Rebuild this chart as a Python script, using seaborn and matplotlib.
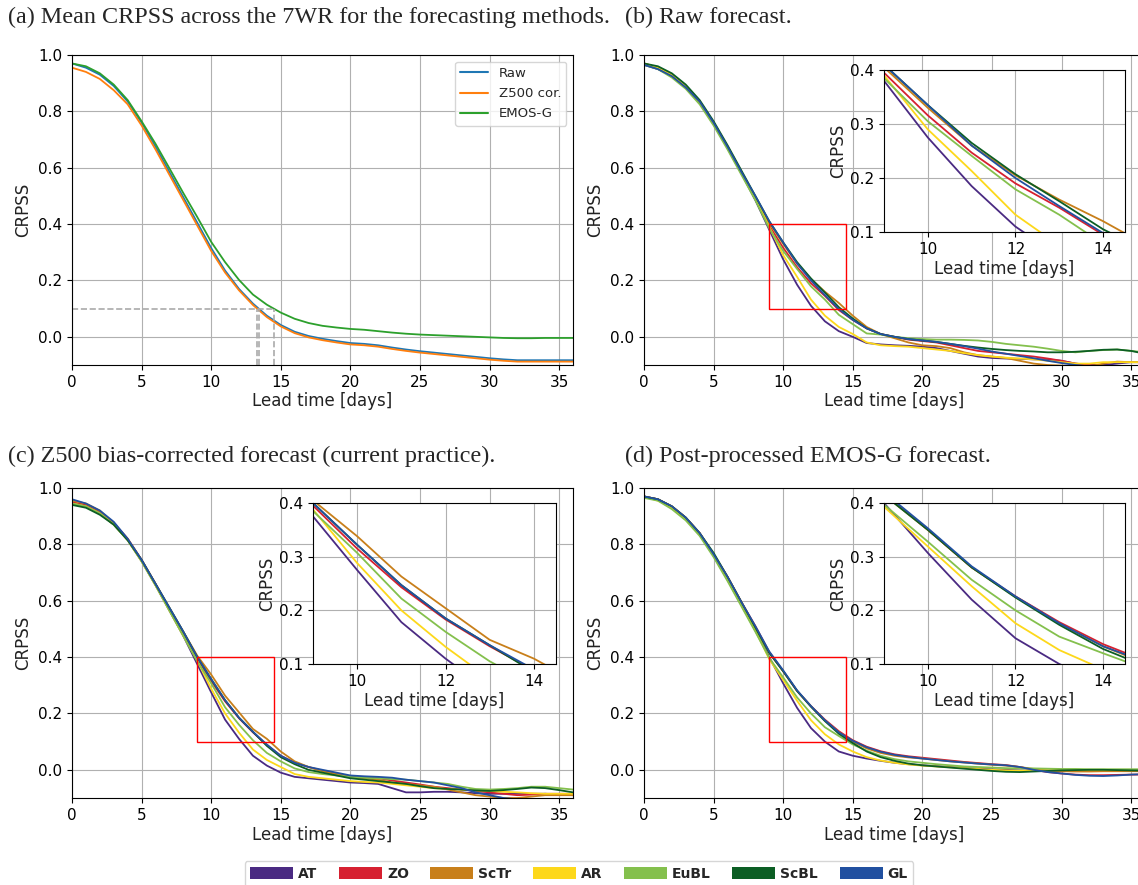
import numpy as np
import pandas as pd
import matplotlib.pyplot as plt
import seaborn as sns
from matplotlib.patches import Rectangle, Patch
from matplotlib.lines import Line2D

# lead time in days
lead = np.arange(37)

# (a) mean CRPSS of the three forecasting methods
methods = ["Raw", "Z500 cor.", "EMOS-G"]
method_colors = ["#1f77b4", "#ff7f0e", "#2ca02c"]
raw_mean = [0.97, 0.955, 0.93, 0.89, 0.835, 0.76, 0.675, 0.585, 0.495, 0.405, 0.315, 0.235, 0.170,
            0.118, 0.075, 0.042, 0.018, 0.003, -0.007, -0.015, -0.022, -0.025, -0.030, -0.038, -0.045,
            -0.051, -0.056, -0.061, -0.066, -0.071, -0.076, -0.080, -0.083, -0.083, -0.083, -0.083, -0.083]
z500_mean = [0.955, 0.94, 0.915, 0.875, 0.825, 0.75, 0.665, 0.575, 0.485, 0.395, 0.305, 0.228, 0.165,
             0.113, 0.07, 0.037, 0.013, -0.002, -0.012, -0.02, -0.027, -0.03, -0.035, -0.043, -0.05,
             -0.056, -0.061, -0.066, -0.071, -0.076, -0.081, -0.085, -0.088, -0.088, -0.088, -0.088, -0.088]
emos_mean = [0.97, 0.96, 0.935, 0.895, 0.84, 0.765, 0.685, 0.598, 0.51, 0.425, 0.337, 0.265, 0.202,
             0.15, 0.114, 0.086, 0.064, 0.049, 0.039, 0.033, 0.028, 0.025, 0.02, 0.015, 0.011,
             0.008, 0.006, 0.004, 0.002, 0.0, -0.002, -0.004, -0.005, -0.005, -0.004, -0.004, -0.004]

# weather regimes
regimes = ["AT", "ZO", "ScTr", "AR", "EuBL", "ScBL", "GL"]
regime_colors = ["#4a2a82", "#d62030", "#c87f1a", "#fdd81b", "#84c04d", "#0c5e24", "#2150a0"]

# (b) raw forecast
raw_AT = [0.965, 0.95, 0.925, 0.885, 0.83, 0.755, 0.67, 0.58, 0.485, 0.38, 0.275, 0.185, 0.11, 0.055,
          0.02, 0.0, -0.022, -0.027, -0.03, -0.032, -0.035, -0.04, -0.05, -0.06, -0.07, -0.075, -0.077,
          -0.078, -0.08, -0.08, -0.085, -0.095, -0.1, -0.1, -0.095, -0.09, -0.09]
raw_ZO = [0.97, 0.955, 0.93, 0.89, 0.835, 0.76, 0.675, 0.585, 0.495, 0.395, 0.316, 0.247, 0.19, 0.145,
          0.095, 0.06, 0.03, 0.01, 0.0, -0.01, -0.015, -0.02, -0.03, -0.04, -0.05, -0.055, -0.06,
          -0.065, -0.07, -0.077, -0.085, -0.095, -0.1, -0.105, -0.11, -0.11, -0.11]
raw_ScTr = [0.97, 0.955, 0.93, 0.89, 0.835, 0.76, 0.675, 0.585, 0.495, 0.405, 0.33, 0.26, 0.205, 0.16,
            0.12, 0.075, 0.035, 0.01, -0.005, -0.02, -0.03, -0.033, -0.04, -0.055, -0.065, -0.07, -0.075,
            -0.085, -0.095, -0.1, -0.102, -0.105, -0.105, -0.095, -0.088, -0.09, -0.09]
raw_AR = [0.97, 0.955, 0.93, 0.89, 0.835, 0.76, 0.675, 0.585, 0.49, 0.39, 0.29, 0.213, 0.132, 0.075,
          0.035, 0.01, -0.02, -0.03, -0.033, -0.035, -0.04, -0.045, -0.05, -0.058, -0.065, -0.07, -0.074,
          -0.077, -0.08, -0.085, -0.09, -0.095, -0.095, -0.09, -0.09, -0.09, -0.09]
raw_EuBL = [0.965, 0.95, 0.92, 0.88, 0.825, 0.75, 0.665, 0.575, 0.485, 0.385, 0.305, 0.241, 0.179,
            0.132, 0.078, 0.045, 0.012, 0.008, 0.0, -0.005, -0.008, -0.01, -0.01, -0.011, -0.013, -0.018,
            -0.025, -0.03, -0.035, -0.042, -0.05, -0.055, -0.05, -0.047, -0.045, -0.05, -0.055]
raw_ScBL = [0.97, 0.96, 0.935, 0.895, 0.84, 0.765, 0.68, 0.59, 0.5, 0.41, 0.335, 0.265, 0.207, 0.157,
            0.105, 0.065, 0.03, 0.01, 0.0, -0.008, -0.013, -0.018, -0.025, -0.032, -0.038, -0.043,
            -0.047, -0.05, -0.052, -0.055, -0.055, -0.053, -0.05, -0.046, -0.045, -0.05, -0.06]
raw_GL = [0.965, 0.95, 0.925, 0.885, 0.835, 0.76, 0.675, 0.585, 0.5, 0.41, 0.335, 0.26, 0.2, 0.148,
          0.098, 0.06, 0.03, 0.01, 0.0, -0.008, -0.013, -0.018, -0.025, -0.033, -0.042, -0.052, -0.06,
          -0.068, -0.076, -0.085, -0.093, -0.1, -0.105, -0.11, -0.115, -0.115, -0.115]

# (c) Z500 bias-corrected forecast
z5_AT = [0.945, 0.935, 0.91, 0.87, 0.815, 0.74, 0.655, 0.565, 0.475, 0.375, 0.275, 0.178, 0.11, 0.05,
         0.015, -0.01, -0.025, -0.03, -0.035, -0.04, -0.045, -0.047, -0.05, -0.065, -0.08, -0.08, -0.078,
         -0.078, -0.08, -0.083, -0.085, -0.085, -0.085, -0.085, -0.085, -0.088, -0.09]
z5_ZO = [0.95, 0.94, 0.915, 0.875, 0.82, 0.745, 0.66, 0.57, 0.48, 0.395, 0.315, 0.243, 0.183, 0.133,
         0.088, 0.05, 0.025, 0.01, -0.003, -0.015, -0.025, -0.028, -0.03, -0.038, -0.045, -0.052, -0.06,
         -0.065, -0.07, -0.075, -0.08, -0.085, -0.09, -0.088, -0.085, -0.085, -0.085]
z5_ScTr = [0.955, 0.945, 0.92, 0.875, 0.82, 0.745, 0.66, 0.575, 0.49, 0.405, 0.338, 0.263, 0.204, 0.145,
           0.11, 0.065, 0.03, 0.01, -0.005, -0.015, -0.025, -0.03, -0.035, -0.045, -0.05, -0.055, -0.06,
           -0.07, -0.08, -0.09, -0.095, -0.1, -0.1, -0.095, -0.09, -0.09, -0.09]
z5_AR = [0.945, 0.935, 0.91, 0.87, 0.815, 0.74, 0.655, 0.565, 0.475, 0.388, 0.288, 0.2, 0.132, 0.072,
         0.035, 0.01, -0.015, -0.025, -0.03, -0.035, -0.04, -0.043, -0.045, -0.05, -0.055, -0.06, -0.065,
         -0.068, -0.07, -0.073, -0.075, -0.078, -0.08, -0.083, -0.085, -0.085, -0.085]
z5_EuBL = [0.945, 0.935, 0.91, 0.87, 0.815, 0.74, 0.655, 0.565, 0.475, 0.385, 0.307, 0.222, 0.16, 0.105,
           0.06, 0.03, 0.005, -0.008, -0.015, -0.02, -0.025, -0.028, -0.03, -0.033, -0.035, -0.04, -0.045,
           -0.05, -0.06, -0.068, -0.07, -0.068, -0.065, -0.06, -0.06, -0.065, -0.07]
z5_ScBL = [0.94, 0.93, 0.905, 0.87, 0.815, 0.745, 0.66, 0.575, 0.49, 0.4, 0.322, 0.247, 0.185, 0.135,
           0.085, 0.045, 0.02, 0.0, -0.01, -0.02, -0.03, -0.035, -0.04, -0.045, -0.05, -0.058, -0.065,
           -0.068, -0.07, -0.073, -0.075, -0.072, -0.068, -0.063, -0.065, -0.072, -0.08]
z5_GL = [0.96, 0.945, 0.92, 0.88, 0.82, 0.745, 0.66, 0.575, 0.49, 0.4, 0.322, 0.247, 0.185, 0.135,
         0.09, 0.05, 0.025, 0.01, 0.0, -0.01, -0.02, -0.023, -0.025, -0.028, -0.035, -0.04, -0.045,
         -0.055, -0.065, -0.08, -0.09, -0.1, -0.105, -0.11, -0.11, -0.11, -0.11]

# (d) post-processed EMOS-G forecast
em_AT = [0.97, 0.96, 0.93, 0.89, 0.835, 0.76, 0.675, 0.585, 0.495, 0.4, 0.307, 0.22, 0.148, 0.1, 0.065,
         0.05, 0.04, 0.032, 0.025, 0.02, 0.016, 0.013, 0.01, 0.007, 0.004, 0.002, 0.0, -0.002, -0.003,
         -0.003, -0.003, -0.002, -0.002, -0.002, -0.002, -0.003, -0.003]
em_ZO = [0.97, 0.96, 0.935, 0.895, 0.84, 0.765, 0.685, 0.595, 0.51, 0.418, 0.35, 0.28, 0.226, 0.178,
         0.137, 0.105, 0.082, 0.066, 0.055, 0.048, 0.043, 0.038, 0.033, 0.028, 0.024, 0.02, 0.017, 0.01,
         0.0, -0.008, -0.013, -0.017, -0.019, -0.019, -0.018, -0.017, -0.017]
em_ScTr = [0.97, 0.96, 0.935, 0.895, 0.84, 0.765, 0.685, 0.595, 0.505, 0.415, 0.35, 0.28, 0.225, 0.175,
           0.133, 0.1, 0.076, 0.06, 0.05, 0.044, 0.04, 0.035, 0.03, 0.026, 0.022, 0.018, 0.015, 0.01,
           0.003, -0.002, -0.005, -0.006, -0.006, -0.005, -0.005, -0.005, -0.005]
em_AR = [0.97, 0.955, 0.93, 0.89, 0.835, 0.76, 0.675, 0.585, 0.495, 0.393, 0.319, 0.245, 0.176, 0.126,
         0.09, 0.065, 0.045, 0.033, 0.025, 0.019, 0.015, 0.012, 0.009, 0.006, 0.003, 0.0, -0.002, -0.003,
         -0.003, -0.002, 0.0, 0.0, 0.0, 0.0, 0.0, 0.0, 0.0]
em_EuBL = [0.965, 0.955, 0.925, 0.885, 0.83, 0.755, 0.67, 0.58, 0.49, 0.397, 0.328, 0.257, 0.2, 0.151,
           0.12, 0.09, 0.068, 0.05, 0.038, 0.03, 0.025, 0.02, 0.016, 0.012, 0.01, 0.008, 0.006, 0.005,
           0.005, 0.004, 0.003, 0.003, 0.002, 0.002, 0.002, 0.002, 0.002]
em_ScBL = [0.97, 0.96, 0.935, 0.895, 0.84, 0.77, 0.685, 0.595, 0.505, 0.415, 0.35, 0.28, 0.224, 0.173,
           0.128, 0.095, 0.065, 0.045, 0.032, 0.022, 0.016, 0.012, 0.008, 0.004, 0.0, -0.004, -0.007,
           -0.008, -0.006, -0.004, -0.002, -0.001, 0.0, 0.0, -0.001, -0.002, -0.003]
em_GL = [0.97, 0.96, 0.935, 0.895, 0.84, 0.765, 0.685, 0.595, 0.51, 0.42, 0.353, 0.282, 0.226, 0.176,
         0.133, 0.103, 0.08, 0.064, 0.053, 0.046, 0.04, 0.035, 0.03, 0.026, 0.022, 0.019, 0.016, 0.01,
         0.0, -0.008, -0.013, -0.018, -0.021, -0.022, -0.02, -0.017, -0.015]

titles = ["(a) Mean CRPSS across the 7WR for the forecasting methods.",
          "(b) Raw forecast.",
          "(c) Z500 bias-corrected forecast (current practice).",
          "(d) Post-processed EMOS-G forecast."]


def to_long(names, series):
    frames = [pd.DataFrame({"lead": lead, "crpss": s, "group": n}) for n, s in zip(names, series)]
    return pd.concat(frames, ignore_index=True)


df_mean = to_long(methods, [raw_mean, z500_mean, emos_mean])
df_raw = to_long(regimes, [raw_AT, raw_ZO, raw_ScTr, raw_AR, raw_EuBL, raw_ScBL, raw_GL])
df_z5 = to_long(regimes, [z5_AT, z5_ZO, z5_ScTr, z5_AR, z5_EuBL, z5_ScBL, z5_GL])
df_em = to_long(regimes, [em_AT, em_ZO, em_ScTr, em_AR, em_EuBL, em_ScBL, em_GL])

sns.set_style("ticks", {"axes.edgecolor": "black", "xtick.color": "black", "ytick.color": "black"})
plt.rcParams["xtick.labelsize"] = 11
plt.rcParams["ytick.labelsize"] = 11
plt.rcParams["axes.labelsize"] = 12
plt.rcParams["axes.labelcolor"] = "#222222"

W, H = 1138, 885
fig = plt.figure(figsize=(W / 100, H / 100), dpi=100)


def px_rect(left, top, right, bottom):
    return [left / W, 1 - bottom / H, (right - left) / W, (bottom - top) / H]


def style_main(ax):
    ax.set_xlim(0, 36)
    ax.set_ylim(-0.1, 1.0)
    ax.set_xticks(range(0, 36, 5))
    ax.set_yticks(np.arange(0, 1.01, 0.2))
    ax.set_yticklabels([f"{v:.1f}" for v in np.arange(0, 1.01, 0.2)])
    ax.grid(True, color="#b0b0b0", lw=0.8)
    ax.set_axisbelow(True)
    ax.set_xlabel("Lead time [days]", labelpad=2)
    ax.set_ylabel("CRPSS")


def draw_regimes(ax, df, lw=1.3):
    sns.lineplot(data=df, x="lead", y="crpss", hue="group", hue_order=regimes,
                 palette=regime_colors, lw=lw, legend=False, ax=ax)


def add_zoom(ax, inset, df):
    ax.add_patch(Rectangle((9, 0.1), 5.5, 0.3, fill=False, ec="red", lw=1.0, zorder=5))
    draw_regimes(inset, df, lw=1.3)
    inset.set_xlim(9, 14.5)
    inset.set_ylim(0.1, 0.4)
    inset.set_xticks([10, 12, 14])
    inset.set_yticks([0.1, 0.2, 0.3, 0.4])
    inset.set_yticklabels(["0.1", "0.2", "0.3", "0.4"])
    inset.grid(True, color="#b0b0b0", lw=0.8)
    inset.set_axisbelow(True)
    inset.set_xlabel("Lead time [days]", labelpad=2)
    inset.set_ylabel("CRPSS", labelpad=2)


# (a)
ax_a = fig.add_axes(px_rect(72, 55, 573, 365))
sns.lineplot(data=df_mean, x="lead", y="crpss", hue="group", hue_order=methods,
             palette=method_colors, lw=1.3, legend=False, ax=ax_a)
style_main(ax_a)
cross = [np.interp(0.1, s[::-1], lead[::-1]) for s in (raw_mean, z500_mean, emos_mean)]
ax_a.plot([0, max(cross)], [0.1, 0.1], ls="--", color="#aaaaaa", lw=1.2)
for c in cross:
    ax_a.plot([c, c], [-0.1, 0.1], ls="--", color="#aaaaaa", lw=1.2)
handles = [Line2D([], [], color=c, lw=1.5) for c in method_colors]
ax_a.legend(handles, methods, loc="upper right", fontsize=9.5, framealpha=0.8, handlelength=2.1,
            labelspacing=0.55)

# (b)
ax_b = fig.add_axes(px_rect(644, 55, 1145, 365))
draw_regimes(ax_b, df_raw)
style_main(ax_b)
add_zoom(ax_b, fig.add_axes(px_rect(884, 70, 1125, 232)), df_raw)

# (c)
ax_c = fig.add_axes(px_rect(72, 488, 573, 798))
draw_regimes(ax_c, df_z5)
style_main(ax_c)
add_zoom(ax_c, fig.add_axes(px_rect(313, 503, 556, 664)), df_z5)

# (d)
ax_d = fig.add_axes(px_rect(644, 488, 1145, 798))
draw_regimes(ax_d, df_em)
style_main(ax_d)
add_zoom(ax_d, fig.add_axes(px_rect(884, 503, 1125, 664)), df_em)

for (x, y), t in zip([(8, 17), (625, 17), (8, 456), (625, 456)], titles):
    fig.text(x / W, 1 - y / H, t, family="Liberation Serif", fontsize=17.4, va="center", ha="left")

patches = [Patch(facecolor=c, edgecolor="none") for c in regime_colors]
leg = fig.legend(patches, regimes, loc="center", bbox_to_anchor=(579 / W, 1 - 874 / H), ncol=7,
                 prop={"weight": "bold", "size": 10}, handlelength=3.1, handleheight=1.0,
                 handletextpad=0.35, columnspacing=1.55, frameon=True, fancybox=True,
                 borderpad=0.4, borderaxespad=0, edgecolor="#cccccc")

fig.savefig("out.png", dpi=100)
